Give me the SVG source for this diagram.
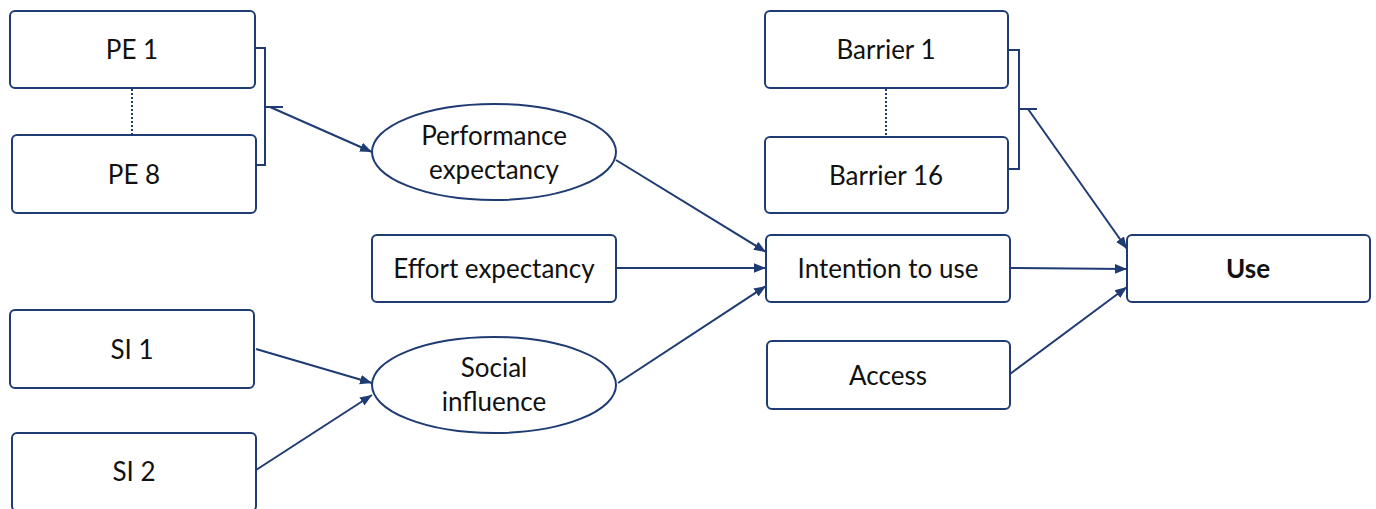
<svg xmlns="http://www.w3.org/2000/svg" width="1376" height="509" viewBox="0 0 1376 509">
  <style>
    .box { fill: #ffffff; stroke: #1f3b73; stroke-width: 2; }
    .lbl { font-family: Lato, "Open Sans", "Liberation Sans", sans-serif; font-size: 26px; fill: #111111; text-anchor: middle; dominant-baseline: central; }
    .bold { font-weight: bold; }
    .conn { fill: none; stroke: #1f3b73; stroke-width: 2; }
    .arrow { marker-end: url(#head); }
    .dot { fill: none; stroke: #1f3b73; stroke-width: 2; stroke-dasharray: 2 2; }
  </style>
  <defs>
    <marker id="head" viewBox="0 0 10 10" refX="10" refY="5" markerWidth="6" markerHeight="6" markerUnits="strokeWidth" orient="auto">
      <path d="M0,1 L10,5 L0,9 z" fill="#1f3b73"/>
    </marker>
  </defs>
  <rect width="1376" height="509" fill="#ffffff"/>

  <g id="connectors">
    <!-- dotted links between first and last indicator -->
    <line class="dot" x1="132" y1="89" x2="132" y2="134"/>
    <line class="dot" x1="886" y1="89" x2="886" y2="136"/>
    <!-- grouping brackets -->
    <path class="conn" d="M255,48 H265 V165 H257 M265,107 H283"/>
    <path class="conn" d="M1008,50 H1019 V169 H1009 M1019,109 H1037"/>
    <!-- paths -->
    <line class="conn arrow" x1="270" y1="107" x2="372" y2="152"/>
    <line class="conn arrow" x1="616" y1="160" x2="766" y2="252"/>
    <line class="conn arrow" x1="616" y1="268" x2="766" y2="268"/>
    <line class="conn arrow" x1="618" y1="383" x2="766" y2="286"/>
    <line class="conn arrow" x1="1010" y1="268" x2="1127" y2="269"/>
    <line class="conn arrow" x1="1028" y1="109" x2="1127" y2="249"/>
    <line class="conn arrow" x1="1010" y1="374" x2="1127" y2="287"/>
    <line class="conn arrow" x1="256" y1="349" x2="372" y2="383"/>
    <line class="conn arrow" x1="256" y1="470" x2="372" y2="395"/>
  </g>

  <g id="pe1"><rect class="box" x="10" y="11" width="245" height="77" rx="5"/><text class="lbl" x="132" y="49">PE 1</text></g>
  <g id="pe8"><rect class="box" x="12" y="135" width="244" height="78" rx="5"/><text class="lbl" x="134" y="174">PE 8</text></g>
  <g id="si1"><rect class="box" x="10" y="310" width="244" height="78" rx="5"/><text class="lbl" x="132" y="349">SI 1</text></g>
  <g id="si2"><rect class="box" x="12" y="433" width="244" height="78" rx="5"/><text class="lbl" x="134" y="471">SI 2</text></g>

  <g id="performance"><ellipse class="box" cx="494" cy="152" rx="122" ry="48"/><text class="lbl" x="494" y="135">Performance</text><text class="lbl" x="494" y="169">expectancy</text></g>
  <g id="effort"><rect class="box" x="372" y="235" width="244" height="67" rx="5"/><text class="lbl" x="494" y="268">Effort expectancy</text></g>
  <g id="social"><ellipse class="box" cx="494" cy="385" rx="122" ry="48"/><text class="lbl" x="494" y="367">Social</text><text class="lbl" x="494" y="401">influence</text></g>

  <g id="barrier1"><rect class="box" x="765" y="11" width="243" height="77" rx="5"/><text class="lbl" x="886" y="49">Barrier 1</text></g>
  <g id="barrier16"><rect class="box" x="765" y="137" width="243" height="76" rx="5"/><text class="lbl" x="886" y="175">Barrier 16</text></g>
  <g id="intention"><rect class="box" x="766" y="235" width="244" height="67" rx="5"/><text class="lbl" x="888" y="268">Intention to use</text></g>
  <g id="access"><rect class="box" x="767" y="341" width="243" height="68" rx="5"/><text class="lbl" x="888" y="375">Access</text></g>
  <g id="use"><rect class="box" x="1127" y="235" width="243" height="67" rx="5"/><text class="lbl bold" x="1248" y="268">Use</text></g>
</svg>
